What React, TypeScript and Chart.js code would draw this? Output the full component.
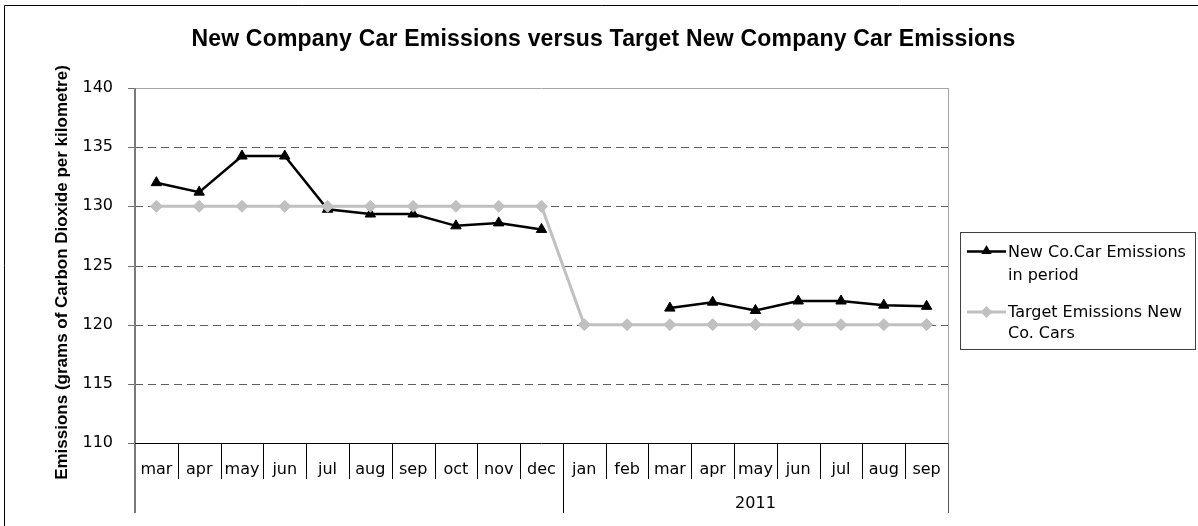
import React, { useEffect, useRef } from "react";
import { Chart, registerables } from "chart.js";

Chart.register(...registerables);

const TITLE = "New Company Car Emissions versus Target New Company Car Emissions";
const Y_TITLE = "Emissions (grams of Carbon Dioxide per kilometre)";

const months = ["mar", "apr", "may", "jun", "jul", "aug", "sep", "oct", "nov", "dec", "jan", "feb", "mar", "apr", "may", "jun", "jul", "aug", "sep"];
const yearLabels = ["", "2011"];
const yearStarts = [0, 10];
const yearEnds = [9, 18];

const emissions = [132.0, 131.2, 134.25, 134.25, 129.75, 129.35, 129.35, 128.35, 128.6, 128.05, null, null, 121.4, 121.9, 121.2, 122.0, 122.0, 121.65, 121.55];
const target = [130, 130, 130, 130, 130, 130, 130, 130, 130, 130, 120, 120, 120, 120, 120, 120, 120, 120, 120];

const seriesNames = ["New Co.Car Emissions in period", "Target Emissions New Co. Cars"];
const legendLines = [["New Co.Car Emissions", "in period"], ["Target Emissions New", "Co. Cars"]];

const Y_MIN = 110;
const Y_MAX = 140;
const Y_STEP = 5;

const FONT = "'DejaVu Sans', Verdana, sans-serif";
const BOLD_FONT = "'Liberation Sans', Arial, sans-serif";
const EMIS_COLOR = "#000000";
const TARGET_COLOR = "#c0c0c0";

function drawTriangle(ctx: CanvasRenderingContext2D, x: number, y: number, r: number, color: string) {
  ctx.beginPath();
  ctx.moveTo(x, y - r);
  ctx.lineTo(x + r * 0.866, y + r / 2);
  ctx.lineTo(x - r * 0.866, y + r / 2);
  ctx.closePath();
  ctx.fillStyle = color;
  ctx.fill();
}

function drawDiamond(ctx: CanvasRenderingContext2D, x: number, y: number, r: number, color: string) {
  ctx.beginPath();
  ctx.moveTo(x - r, y);
  ctx.lineTo(x, y - r);
  ctx.lineTo(x + r, y);
  ctx.lineTo(x, y + r);
  ctx.closePath();
  ctx.fillStyle = color;
  ctx.fill();
}

const decorPlugin = {
  id: "decor",
  beforeDatasetsDraw(chart: any) {
    const { ctx, chartArea, scales } = chart;
    const { left, right, top, bottom } = chartArea;
    const y = scales.y;
    ctx.save();
    // dashed gridlines
    ctx.lineWidth = 1;
    ctx.strokeStyle = "#5f5f5f";
    ctx.setLineDash([8, 5]);
    for (let v = Y_MIN + Y_STEP; v < Y_MAX; v += Y_STEP) {
      const py = Math.round(y.getPixelForValue(v)) + 0.5;
      ctx.beginPath();
      ctx.moveTo(left, py);
      ctx.lineTo(right, py);
      ctx.stroke();
    }
    ctx.setLineDash([]);
    // top and right plot border
    ctx.strokeStyle = "#a6a6a6";
    const pTop = Math.round(y.getPixelForValue(Y_MAX)) + 0.5;
    ctx.beginPath();
    ctx.moveTo(left, pTop);
    ctx.lineTo(right, pTop);
    ctx.moveTo(Math.round(right) + 0.5, top);
    ctx.lineTo(Math.round(right) + 0.5, bottom);
    ctx.stroke();
    // tick marks
    ctx.strokeStyle = "#707070";
    for (let v = Y_MIN; v <= Y_MAX; v += Y_STEP) {
      const py = Math.round(y.getPixelForValue(v)) + 0.5;
      ctx.beginPath();
      ctx.moveTo(left - 7, py);
      ctx.lineTo(left, py);
      ctx.stroke();
    }
    // left axis line
    ctx.strokeStyle = "#7a7a7a";
    ctx.lineWidth = 2;
    ctx.beginPath();
    ctx.moveTo(left, top);
    ctx.lineTo(left, bottom + 70);
    ctx.stroke();
    ctx.restore();
  },
  afterDraw(chart: any) {
    const { ctx, chartArea, scales } = chart;
    const { left, right, bottom } = chartArea;
    const x = scales.x;
    ctx.save();
    // x axis line
    ctx.strokeStyle = "#000";
    ctx.lineWidth = 1;
    ctx.beginPath();
    ctx.moveTo(left, Math.round(bottom) + 0.5);
    ctx.lineTo(right, Math.round(bottom) + 0.5);
    ctx.stroke();
    // separators
    const half = (x.getPixelForValue(1) - x.getPixelForValue(0)) / 2;
    for (let i = 1; i <= months.length; i++) {
      const bx = Math.round(x.getPixelForValue(i) - half) + 0.5;
      const isGroup = yearStarts.includes(i) || i === months.length;
      ctx.strokeStyle = i === months.length ? "#555" : "#000";
      ctx.beginPath();
      ctx.moveTo(bx, bottom);
      ctx.lineTo(bx, bottom + (isGroup ? 70 : 36));
      ctx.stroke();
    }
    // month labels
    ctx.fillStyle = "#000";
    ctx.font = `16px ${FONT}`;
    ctx.textAlign = "center";
    ctx.textBaseline = "alphabetic";
    months.forEach((m, i) => {
      ctx.fillText(m, x.getPixelForValue(i), bottom + 31);
    });
    // year labels
    yearLabels.forEach((lab, gi) => {
      if (!lab) return;
      const cx = (x.getPixelForValue(yearStarts[gi]) + x.getPixelForValue(yearEnds[gi])) / 2;
      ctx.fillText(lab, cx, bottom + 65);
    });
    // legend
    const lx = 960.5, ly = 232.5, lw = 235, lh = 117;
    ctx.fillStyle = "#fff";
    ctx.fillRect(lx, ly, lw, lh);
    ctx.strokeStyle = "#404040";
    ctx.lineWidth = 1;
    ctx.strokeRect(lx, ly, lw, lh);
    // entry 1
    ctx.strokeStyle = EMIS_COLOR;
    ctx.lineWidth = 2.5;
    ctx.beginPath();
    ctx.moveTo(967, 251.5);
    ctx.lineTo(1006, 251.5);
    ctx.stroke();
    drawTriangle(ctx, 986.5, 251, 6, EMIS_COLOR);
    // entry 2
    ctx.strokeStyle = TARGET_COLOR;
    ctx.lineWidth = 3;
    ctx.beginPath();
    ctx.moveTo(967, 312);
    ctx.lineTo(1006, 312);
    ctx.stroke();
    drawDiamond(ctx, 986.5, 312, 6, TARGET_COLOR);
    ctx.fillStyle = "#000";
    ctx.textAlign = "left";
    ctx.textBaseline = "alphabetic";
    ctx.font = `16px ${FONT}`;
    ctx.fillText(legendLines[0][0], 1008, 257);
    ctx.fillText(legendLines[0][1], 1008, 280);
    ctx.fillText(legendLines[1][0], 1008, 317);
    ctx.fillText(legendLines[1][1], 1008, 338);
    // title
    ctx.font = `bold 23px ${BOLD_FONT}`;
    ctx.textAlign = "center";
    (ctx as any).letterSpacing = "0.2px";
    ctx.fillText(TITLE, 603.5, 45.5);
    (ctx as any).letterSpacing = "0px";
    // y title
    ctx.save();
    ctx.translate(66.5, 272.5);
    ctx.rotate(-Math.PI / 2);
    ctx.font = `bold 17px ${BOLD_FONT}`;
    ctx.textAlign = "center";
    ctx.textBaseline = "alphabetic";
    ctx.fillText(Y_TITLE, 0, 0);
    ctx.restore();
    // outer frame (left & top visible)
    ctx.strokeStyle = "#000";
    ctx.lineWidth = 1;
    ctx.beginPath();
    ctx.moveTo(4.5, 526);
    ctx.lineTo(4.5, 5.5);
    ctx.lineTo(1198, 5.5);
    ctx.stroke();
    ctx.restore();
  },
};

export default function App() {
  const ref = useRef<HTMLCanvasElement>(null);
  useEffect(() => {
    const chart = new Chart(ref.current as HTMLCanvasElement, {
      type: "line",
      data: {
        labels: months,
        datasets: [
          {
            label: seriesNames[0],
            data: emissions,
            borderColor: EMIS_COLOR,
            backgroundColor: EMIS_COLOR,
            borderWidth: 2.5,
            pointStyle: "triangle",
            pointRadius: 6,
            pointBorderWidth: 1,
            pointBackgroundColor: EMIS_COLOR,
            pointBorderColor: EMIS_COLOR,
            spanGaps: false,
            tension: 0,
            order: 1,
          },
          {
            label: seriesNames[1],
            data: target,
            borderColor: TARGET_COLOR,
            backgroundColor: TARGET_COLOR,
            borderWidth: 3,
            pointStyle: "rectRot",
            pointRadius: 6,
            pointBorderWidth: 1,
            pointBackgroundColor: TARGET_COLOR,
            pointBorderColor: TARGET_COLOR,
            tension: 0,
            order: 0,
          },
        ],
      },
      options: {
        responsive: false,
        animation: false,
        devicePixelRatio: 1,
        layout: { padding: { top: 88, left: 0, right: 250, bottom: 83 } },
        plugins: {
          legend: { display: false },
          title: { display: false },
          tooltip: { enabled: false },
        },
        scales: {
          x: {
            type: "category",
            offset: true,
            grid: { display: false },
            border: { display: false },
            ticks: { display: false },
            afterFit: (s: any) => {
              s.height = 0;
            },
          },
          y: {
            min: Y_MIN,
            max: Y_MAX,
            ticks: {
              stepSize: Y_STEP,
              font: { family: FONT, size: 16 },
              color: "#000",
              padding: 22,
            },
            grid: { display: false, drawTicks: false },
            border: { display: false },
            afterFit: (s: any) => {
              s.width = 135;
            },
          },
        },
      },
      plugins: [decorPlugin],
    });
    return () => chart.destroy();
  }, []);
  return (
    <div style={{ position: "fixed", left: 0, top: 0, width: 1198, height: 526, background: "#fff" }}>
      <canvas ref={ref} width={1198} height={526} style={{ display: "block", width: 1198, height: 526 }} />
    </div>
  );
}
